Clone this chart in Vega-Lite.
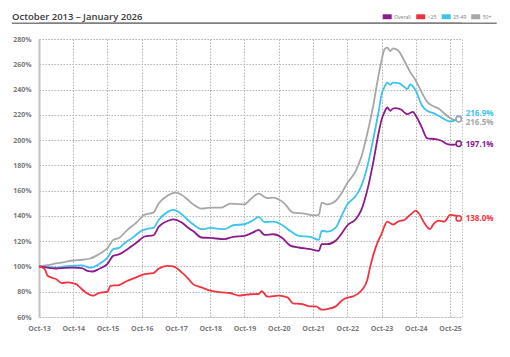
{
  "$schema": "https://vega.github.io/schema/vega-lite/v6.json",
  "width": 423,
  "height": 278,
  "autosize": {"type": "none"},
  "padding": {"left": 39, "top": 39, "right": 48, "bottom": 40},
  "background": "white",
  "config": {
    "font": "Open Sans",
    "view": {"stroke": "#bdbdbd", "strokeDash": [1.5, 1.5], "strokeWidth": 1}
  },
  "title": {
    "text": "October 2013 – January 2026",
    "anchor": "start",
    "frame": "group",
    "dx": -27,
    "offset": -9,
    "fontSize": 9.5,
    "fontWeight": 600,
    "color": "#3a3a3a"
  },
  "datasets": {
    "s": [
      {"d": "2013-10-01", "s": "50+", "v": 100},
      {"d": "2014-01-01", "s": "50+", "v": 101},
      {"d": "2014-04-01", "s": "50+", "v": 102.4},
      {"d": "2014-07-01", "s": "50+", "v": 103.5},
      {"d": "2014-10-01", "s": "50+", "v": 104.7},
      {"d": "2015-01-01", "s": "50+", "v": 105.3},
      {"d": "2015-04-01", "s": "50+", "v": 106.3},
      {"d": "2015-06-01", "s": "50+", "v": 108.4},
      {"d": "2015-08-01", "s": "50+", "v": 111},
      {"d": "2015-10-01", "s": "50+", "v": 114.5},
      {"d": "2015-12-01", "s": "50+", "v": 121},
      {"d": "2016-02-01", "s": "50+", "v": 122.5},
      {"d": "2016-05-01", "s": "50+", "v": 129},
      {"d": "2016-08-01", "s": "50+", "v": 134.5},
      {"d": "2016-11-01", "s": "50+", "v": 141},
      {"d": "2017-02-01", "s": "50+", "v": 142.6},
      {"d": "2017-04-01", "s": "50+", "v": 150},
      {"d": "2017-07-01", "s": "50+", "v": 156},
      {"d": "2017-10-01", "s": "50+", "v": 158.5},
      {"d": "2017-12-01", "s": "50+", "v": 156.5},
      {"d": "2018-02-01", "s": "50+", "v": 153},
      {"d": "2018-04-01", "s": "50+", "v": 149.2},
      {"d": "2018-07-01", "s": "50+", "v": 145.8},
      {"d": "2018-10-01", "s": "50+", "v": 146.6},
      {"d": "2019-02-01", "s": "50+", "v": 146.6},
      {"d": "2019-05-01", "s": "50+", "v": 149.7},
      {"d": "2019-07-01", "s": "50+", "v": 149.5},
      {"d": "2019-10-01", "s": "50+", "v": 149.2},
      {"d": "2019-12-01", "s": "50+", "v": 153},
      {"d": "2020-03-01", "s": "50+", "v": 157.6},
      {"d": "2020-06-01", "s": "50+", "v": 154},
      {"d": "2020-08-01", "s": "50+", "v": 154.4},
      {"d": "2020-10-01", "s": "50+", "v": 153},
      {"d": "2020-12-01", "s": "50+", "v": 149.7},
      {"d": "2021-03-01", "s": "50+", "v": 142.6},
      {"d": "2021-07-01", "s": "50+", "v": 141.8},
      {"d": "2021-10-01", "s": "50+", "v": 140.5},
      {"d": "2021-12-01", "s": "50+", "v": 140.8},
      {"d": "2022-01-01", "s": "50+", "v": 150.5},
      {"d": "2022-03-01", "s": "50+", "v": 149.2},
      {"d": "2022-06-01", "s": "50+", "v": 152},
      {"d": "2022-08-01", "s": "50+", "v": 158},
      {"d": "2022-10-01", "s": "50+", "v": 166},
      {"d": "2023-01-01", "s": "50+", "v": 175.8},
      {"d": "2023-03-01", "s": "50+", "v": 187},
      {"d": "2023-05-01", "s": "50+", "v": 204.7},
      {"d": "2023-07-01", "s": "50+", "v": 225.8},
      {"d": "2023-09-01", "s": "50+", "v": 252},
      {"d": "2023-10-01", "s": "50+", "v": 263},
      {"d": "2023-11-01", "s": "50+", "v": 271.8},
      {"d": "2023-12-01", "s": "50+", "v": 273.2},
      {"d": "2024-01-01", "s": "50+", "v": 270.5},
      {"d": "2024-02-01", "s": "50+", "v": 272.6},
      {"d": "2024-03-01", "s": "50+", "v": 272},
      {"d": "2024-04-01", "s": "50+", "v": 270.5},
      {"d": "2024-06-01", "s": "50+", "v": 262.6},
      {"d": "2024-08-01", "s": "50+", "v": 254},
      {"d": "2024-10-01", "s": "50+", "v": 247},
      {"d": "2024-12-01", "s": "50+", "v": 238},
      {"d": "2025-02-01", "s": "50+", "v": 230},
      {"d": "2025-04-01", "s": "50+", "v": 227},
      {"d": "2025-06-01", "s": "50+", "v": 225},
      {"d": "2025-08-01", "s": "50+", "v": 221},
      {"d": "2025-10-01", "s": "50+", "v": 217.4},
      {"d": "2025-12-01", "s": "50+", "v": 215.8},
      {"d": "2026-01-01", "s": "50+", "v": 216.5},

      {"d": "2013-10-01", "s": "25-49", "v": 100},
      {"d": "2014-01-01", "s": "25-49", "v": 99.5},
      {"d": "2014-04-01", "s": "25-49", "v": 99},
      {"d": "2014-07-01", "s": "25-49", "v": 100},
      {"d": "2014-10-01", "s": "25-49", "v": 100.5},
      {"d": "2015-01-01", "s": "25-49", "v": 100.8},
      {"d": "2015-04-01", "s": "25-49", "v": 99},
      {"d": "2015-07-01", "s": "25-49", "v": 101.8},
      {"d": "2015-10-01", "s": "25-49", "v": 107},
      {"d": "2015-12-01", "s": "25-49", "v": 113.7},
      {"d": "2016-02-01", "s": "25-49", "v": 114.7},
      {"d": "2016-04-01", "s": "25-49", "v": 118.4},
      {"d": "2016-07-01", "s": "25-49", "v": 123},
      {"d": "2016-10-01", "s": "25-49", "v": 128.5},
      {"d": "2016-12-01", "s": "25-49", "v": 129.8},
      {"d": "2017-02-01", "s": "25-49", "v": 130.5},
      {"d": "2017-04-01", "s": "25-49", "v": 137},
      {"d": "2017-07-01", "s": "25-49", "v": 143},
      {"d": "2017-09-01", "s": "25-49", "v": 144.7},
      {"d": "2017-12-01", "s": "25-49", "v": 141.3},
      {"d": "2018-02-01", "s": "25-49", "v": 137},
      {"d": "2018-04-01", "s": "25-49", "v": 133.4},
      {"d": "2018-07-01", "s": "25-49", "v": 129.5},
      {"d": "2018-10-01", "s": "25-49", "v": 130.5},
      {"d": "2019-03-01", "s": "25-49", "v": 129.5},
      {"d": "2019-06-01", "s": "25-49", "v": 132.6},
      {"d": "2019-10-01", "s": "25-49", "v": 133.4},
      {"d": "2020-01-01", "s": "25-49", "v": 136.5},
      {"d": "2020-03-01", "s": "25-49", "v": 139.2},
      {"d": "2020-05-01", "s": "25-49", "v": 135.2},
      {"d": "2020-08-01", "s": "25-49", "v": 135.5},
      {"d": "2020-11-01", "s": "25-49", "v": 133},
      {"d": "2021-02-01", "s": "25-49", "v": 128},
      {"d": "2021-05-01", "s": "25-49", "v": 124.2},
      {"d": "2021-09-01", "s": "25-49", "v": 123.4},
      {"d": "2021-12-01", "s": "25-49", "v": 121},
      {"d": "2022-01-01", "s": "25-49", "v": 128.1},
      {"d": "2022-03-01", "s": "25-49", "v": 127.6},
      {"d": "2022-06-01", "s": "25-49", "v": 131},
      {"d": "2022-08-01", "s": "25-49", "v": 140},
      {"d": "2022-10-01", "s": "25-49", "v": 149},
      {"d": "2023-01-01", "s": "25-49", "v": 156},
      {"d": "2023-03-01", "s": "25-49", "v": 164},
      {"d": "2023-05-01", "s": "25-49", "v": 178.4},
      {"d": "2023-07-01", "s": "25-49", "v": 199.5},
      {"d": "2023-09-01", "s": "25-49", "v": 223},
      {"d": "2023-10-01", "s": "25-49", "v": 236},
      {"d": "2023-11-01", "s": "25-49", "v": 242},
      {"d": "2023-12-01", "s": "25-49", "v": 245.5},
      {"d": "2024-01-01", "s": "25-49", "v": 243.7},
      {"d": "2024-02-01", "s": "25-49", "v": 245.5},
      {"d": "2024-04-01", "s": "25-49", "v": 245},
      {"d": "2024-06-01", "s": "25-49", "v": 242},
      {"d": "2024-07-01", "s": "25-49", "v": 240.3},
      {"d": "2024-08-01", "s": "25-49", "v": 244},
      {"d": "2024-10-01", "s": "25-49", "v": 239},
      {"d": "2024-12-01", "s": "25-49", "v": 228},
      {"d": "2025-02-01", "s": "25-49", "v": 223},
      {"d": "2025-04-01", "s": "25-49", "v": 221.5},
      {"d": "2025-06-01", "s": "25-49", "v": 219.2},
      {"d": "2025-08-01", "s": "25-49", "v": 216.6},
      {"d": "2025-10-01", "s": "25-49", "v": 214.7},
      {"d": "2025-12-01", "s": "25-49", "v": 215.8},
      {"d": "2026-01-01", "s": "25-49", "v": 216.9},

      {"d": "2013-10-01", "s": "Overall", "v": 100},
      {"d": "2014-01-01", "s": "Overall", "v": 99},
      {"d": "2014-04-01", "s": "Overall", "v": 98.4},
      {"d": "2014-07-01", "s": "Overall", "v": 98.8},
      {"d": "2014-10-01", "s": "Overall", "v": 99},
      {"d": "2015-01-01", "s": "Overall", "v": 98.7},
      {"d": "2015-03-01", "s": "Overall", "v": 96.5},
      {"d": "2015-05-01", "s": "Overall", "v": 96},
      {"d": "2015-07-01", "s": "Overall", "v": 98},
      {"d": "2015-10-01", "s": "Overall", "v": 102},
      {"d": "2015-12-01", "s": "Overall", "v": 108.4},
      {"d": "2016-02-01", "s": "Overall", "v": 109.5},
      {"d": "2016-05-01", "s": "Overall", "v": 113.7},
      {"d": "2016-08-01", "s": "Overall", "v": 118.5},
      {"d": "2016-11-01", "s": "Overall", "v": 123.7},
      {"d": "2017-02-01", "s": "Overall", "v": 124.7},
      {"d": "2017-04-01", "s": "Overall", "v": 131.5},
      {"d": "2017-07-01", "s": "Overall", "v": 136},
      {"d": "2017-09-01", "s": "Overall", "v": 137.3},
      {"d": "2017-12-01", "s": "Overall", "v": 134.7},
      {"d": "2018-02-01", "s": "Overall", "v": 131},
      {"d": "2018-04-01", "s": "Overall", "v": 128},
      {"d": "2018-07-01", "s": "Overall", "v": 122.9},
      {"d": "2018-10-01", "s": "Overall", "v": 122.6},
      {"d": "2019-03-01", "s": "Overall", "v": 121.6},
      {"d": "2019-06-01", "s": "Overall", "v": 123.4},
      {"d": "2019-10-01", "s": "Overall", "v": 124.2},
      {"d": "2020-01-01", "s": "Overall", "v": 127},
      {"d": "2020-03-01", "s": "Overall", "v": 128.9},
      {"d": "2020-05-01", "s": "Overall", "v": 125},
      {"d": "2020-08-01", "s": "Overall", "v": 125.5},
      {"d": "2020-11-01", "s": "Overall", "v": 122.9},
      {"d": "2021-02-01", "s": "Overall", "v": 116.5},
      {"d": "2021-05-01", "s": "Overall", "v": 115},
      {"d": "2021-09-01", "s": "Overall", "v": 113.7},
      {"d": "2021-12-01", "s": "Overall", "v": 112.4},
      {"d": "2022-01-01", "s": "Overall", "v": 117.6},
      {"d": "2022-03-01", "s": "Overall", "v": 117.6},
      {"d": "2022-06-01", "s": "Overall", "v": 120.5},
      {"d": "2022-08-01", "s": "Overall", "v": 126},
      {"d": "2022-10-01", "s": "Overall", "v": 132.4},
      {"d": "2023-01-01", "s": "Overall", "v": 137.6},
      {"d": "2023-03-01", "s": "Overall", "v": 145},
      {"d": "2023-05-01", "s": "Overall", "v": 160},
      {"d": "2023-07-01", "s": "Overall", "v": 181},
      {"d": "2023-09-01", "s": "Overall", "v": 206},
      {"d": "2023-10-01", "s": "Overall", "v": 216},
      {"d": "2023-11-01", "s": "Overall", "v": 222},
      {"d": "2023-12-01", "s": "Overall", "v": 225.8},
      {"d": "2024-01-01", "s": "Overall", "v": 223.2},
      {"d": "2024-02-01", "s": "Overall", "v": 225},
      {"d": "2024-03-01", "s": "Overall", "v": 225.3},
      {"d": "2024-05-01", "s": "Overall", "v": 224},
      {"d": "2024-06-01", "s": "Overall", "v": 221.8},
      {"d": "2024-07-01", "s": "Overall", "v": 220.5},
      {"d": "2024-09-01", "s": "Overall", "v": 222.4},
      {"d": "2024-10-01", "s": "Overall", "v": 219.2},
      {"d": "2024-12-01", "s": "Overall", "v": 210.5},
      {"d": "2025-02-01", "s": "Overall", "v": 201.3},
      {"d": "2025-05-01", "s": "Overall", "v": 200.8},
      {"d": "2025-07-01", "s": "Overall", "v": 199.5},
      {"d": "2025-09-01", "s": "Overall", "v": 196.8},
      {"d": "2025-11-01", "s": "Overall", "v": 196.3},
      {"d": "2026-01-01", "s": "Overall", "v": 197.1},

      {"d": "2013-10-01", "s": "<25", "v": 100},
      {"d": "2013-12-01", "s": "<25", "v": 97.9},
      {"d": "2014-01-01", "s": "<25", "v": 92.6},
      {"d": "2014-04-01", "s": "<25", "v": 90},
      {"d": "2014-06-01", "s": "<25", "v": 86.8},
      {"d": "2014-08-01", "s": "<25", "v": 87.4},
      {"d": "2014-11-01", "s": "<25", "v": 86},
      {"d": "2014-12-01", "s": "<25", "v": 84.2},
      {"d": "2015-02-01", "s": "<25", "v": 80},
      {"d": "2015-05-01", "s": "<25", "v": 76.9},
      {"d": "2015-07-01", "s": "<25", "v": 79},
      {"d": "2015-10-01", "s": "<25", "v": 80},
      {"d": "2015-11-01", "s": "<25", "v": 84.7},
      {"d": "2016-02-01", "s": "<25", "v": 85.3},
      {"d": "2016-05-01", "s": "<25", "v": 88.7},
      {"d": "2016-08-01", "s": "<25", "v": 91.3},
      {"d": "2016-11-01", "s": "<25", "v": 94},
      {"d": "2017-02-01", "s": "<25", "v": 94.7},
      {"d": "2017-04-01", "s": "<25", "v": 98.4},
      {"d": "2017-07-01", "s": "<25", "v": 100.5},
      {"d": "2017-09-01", "s": "<25", "v": 100},
      {"d": "2017-12-01", "s": "<25", "v": 95.3},
      {"d": "2018-02-01", "s": "<25", "v": 91},
      {"d": "2018-04-01", "s": "<25", "v": 86},
      {"d": "2018-07-01", "s": "<25", "v": 83.4},
      {"d": "2018-10-01", "s": "<25", "v": 80.8},
      {"d": "2019-02-01", "s": "<25", "v": 79.5},
      {"d": "2019-05-01", "s": "<25", "v": 79},
      {"d": "2019-08-01", "s": "<25", "v": 76.9},
      {"d": "2019-10-01", "s": "<25", "v": 77.4},
      {"d": "2019-12-01", "s": "<25", "v": 78},
      {"d": "2020-03-01", "s": "<25", "v": 78.2},
      {"d": "2020-04-01", "s": "<25", "v": 80.5},
      {"d": "2020-06-01", "s": "<25", "v": 76.1},
      {"d": "2020-10-01", "s": "<25", "v": 76.9},
      {"d": "2021-01-01", "s": "<25", "v": 75.6},
      {"d": "2021-03-01", "s": "<25", "v": 70.8},
      {"d": "2021-06-01", "s": "<25", "v": 70.3},
      {"d": "2021-09-01", "s": "<25", "v": 68.4},
      {"d": "2021-11-01", "s": "<25", "v": 68.4},
      {"d": "2022-01-01", "s": "<25", "v": 65.8},
      {"d": "2022-03-01", "s": "<25", "v": 66.3},
      {"d": "2022-06-01", "s": "<25", "v": 68.4},
      {"d": "2022-08-01", "s": "<25", "v": 72.9},
      {"d": "2022-10-01", "s": "<25", "v": 75.3},
      {"d": "2022-12-01", "s": "<25", "v": 76.3},
      {"d": "2023-03-01", "s": "<25", "v": 81},
      {"d": "2023-05-01", "s": "<25", "v": 89},
      {"d": "2023-06-01", "s": "<25", "v": 99.5},
      {"d": "2023-08-01", "s": "<25", "v": 115.3},
      {"d": "2023-10-01", "s": "<25", "v": 125.8},
      {"d": "2023-12-01", "s": "<25", "v": 135.5},
      {"d": "2024-02-01", "s": "<25", "v": 133.2},
      {"d": "2024-04-01", "s": "<25", "v": 135.8},
      {"d": "2024-06-01", "s": "<25", "v": 136.8},
      {"d": "2024-08-01", "s": "<25", "v": 140.8},
      {"d": "2024-10-01", "s": "<25", "v": 144.2},
      {"d": "2024-11-01", "s": "<25", "v": 142.1},
      {"d": "2025-01-01", "s": "<25", "v": 134.2},
      {"d": "2025-03-01", "s": "<25", "v": 129.5},
      {"d": "2025-04-01", "s": "<25", "v": 132.9},
      {"d": "2025-06-01", "s": "<25", "v": 136.3},
      {"d": "2025-08-01", "s": "<25", "v": 135.5},
      {"d": "2025-10-01", "s": "<25", "v": 140.8},
      {"d": "2025-12-01", "s": "<25", "v": 140.3},
      {"d": "2026-01-01", "s": "<25", "v": 138}
    ],
    "ends": [
      {"d": "2026-01-01", "s": "Overall", "v": 197.1, "t": "197.1%"},
      {"d": "2026-01-01", "s": "<25", "v": 138, "t": "138.0%"},
      {"d": "2026-01-01", "s": "25-49", "v": 216.9, "t": "216.9%"},
      {"d": "2026-01-01", "s": "50+", "v": 216.5, "t": "216.5%"}
    ]
  },
  "layer": [
    {
      "data": {"name": "s"},
      "mark": {"type": "line", "strokeWidth": 1.8, "interpolate": "monotone"},
      "encoding": {
        "x": {
          "field": "d",
          "type": "temporal",
          "title": null,
          "scale": {
            "type": "utc",
            "domain": [
              {"year": 2013, "month": 10, "date": 1, "utc": true},
              {"year": 2026, "month": 2, "date": 5, "utc": true}
            ]
          },
          "axis": {
            "values": [
              {"year": 2013, "month": 10, "date": 1, "utc": true},
              {"year": 2014, "month": 10, "date": 1, "utc": true},
              {"year": 2015, "month": 10, "date": 1, "utc": true},
              {"year": 2016, "month": 10, "date": 1, "utc": true},
              {"year": 2017, "month": 10, "date": 1, "utc": true},
              {"year": 2018, "month": 10, "date": 1, "utc": true},
              {"year": 2019, "month": 10, "date": 1, "utc": true},
              {"year": 2020, "month": 10, "date": 1, "utc": true},
              {"year": 2021, "month": 10, "date": 1, "utc": true},
              {"year": 2022, "month": 10, "date": 1, "utc": true},
              {"year": 2023, "month": 10, "date": 1, "utc": true},
              {"year": 2024, "month": 10, "date": 1, "utc": true},
              {"year": 2025, "month": 10, "date": 1, "utc": true}
            ],
            "tickCount": 40,
            "format": "%b-%y",
            "labelOverlap": false,
            "labelFlush": false,
            "domain": false,
            "ticks": false,
            "labelPadding": 7,
            "labelFontSize": 7,
            "labelFontWeight": "bold",
            "labelColor": "#7a7a7a",
            "grid": true,
            "gridColor": "#b5b5b5",
            "gridDash": [1.5, 1.5],
            "gridWidth": 1
          }
        },
        "y": {
          "field": "v",
          "type": "quantitative",
          "title": null,
          "scale": {"domain": [60, 280], "nice": false, "zero": false},
          "axis": {
            "values": [60, 80, 100, 120, 140, 160, 180, 200, 220, 240, 260, 280],
            "tickCount": 40,
            "labelExpr": "datum.value + '%'",
            "labelOverlap": false,
            "labelFlush": false,
            "domain": true,
            "domainColor": "#c4c4c4",
            "domainWidth": 2,
            "ticks": false,
            "labelPadding": 8,
            "labelFontSize": 7,
            "labelFontWeight": "bold",
            "labelColor": "#7a7a7a",
            "grid": true,
            "gridColor": "#b5b5b5",
            "gridDash": [1.5, 1.5],
            "gridWidth": 1
          }
        },
        "color": {
          "field": "s",
          "type": "nominal",
          "scale": {
            "domain": ["Overall", "<25", "25-49", "50+"],
            "range": ["#8c1a8c", "#f2333f", "#3ec3ee", "#a7a7a7"]
          },
          "legend": {
            "orient": "none",
            "legendX": 343.7,
            "legendY": -27,
            "direction": "horizontal",
            "title": null,
            "symbolType": "M-1,-0.55H1V0.55H-1Z",
            "symbolSize": 81,
            "symbolStrokeWidth": 0,
            "labelFontSize": 5,
            "labelColor": "#777777",
            "labelOffset": 2.5,
            "columnPadding": 4.5,
            "encode": {
              "symbols": {"update": {"fill": {"scale": "color", "field": "value"}, "opacity": {"value": 1}}}
            }
          }
        }
      }
    },
    {
      "data": {"values": [{"k": "separatorA"}]},
      "mark": {"type": "rule", "clip": false, "stroke": "gray", "strokeOpacity": 1, "strokeWidth": 1.5},
      "encoding": {
        "x": {"datum": {"year": 2012, "month": 12, "date": 15, "utc": true}, "type": "temporal"},
        "x2": {"datum": {"year": 2019, "month": 6, "date": 1, "utc": true}},
        "y": {"datum": 292.5, "type": "quantitative"}
      }
    },
    {
      "data": {"values": [{"k": "separatorB"}]},
      "mark": {"type": "rule", "clip": false, "stroke": "gray", "strokeOpacity": 1, "strokeWidth": 1.5},
      "encoding": {
        "x": {"datum": {"year": 2027, "month": 2, "date": 10, "utc": true}, "type": "temporal"},
        "x2": {"datum": {"year": 2019, "month": 6, "date": 1, "utc": true}},
        "y": {"datum": 292.5, "type": "quantitative"}
      }
    },
    {
      "data": {"values": [{"k": "separatorC"}]},
      "mark": {"type": "rule", "clip": false, "stroke": "gray", "strokeOpacity": 1, "strokeWidth": 1.5},
      "encoding": {
        "x": {"datum": {"year": 2013, "month": 10, "date": 1, "utc": true}, "type": "temporal"},
        "x2": {"datum": {"year": 2026, "month": 2, "date": 5, "utc": true}},
        "y": {"datum": 292.5, "type": "quantitative"}
      }
    },
    {
      "data": {"name": "ends"},
      "mark": {"type": "point", "shape": "circle", "filled": false, "fill": "white", "fillOpacity": 1, "opacity": 1, "strokeWidth": 1.5, "size": 28},
      "encoding": {
        "x": {"field": "d", "type": "temporal"},
        "y": {"field": "v", "type": "quantitative"},
        "color": {"field": "s", "type": "nominal", "legend": null}
      }
    },
    {
      "data": {"name": "ends"},
      "transform": [{"filter": "datum.s === 'Overall' || datum.s === '<25'"}],
      "mark": {"type": "text", "align": "left", "dx": 7, "dy": 1, "fontSize": 8, "fontWeight": "bold"},
      "encoding": {
        "x": {"field": "d", "type": "temporal"},
        "y": {"field": "v", "type": "quantitative"},
        "text": {"field": "t"},
        "color": {"field": "s", "type": "nominal", "legend": null}
      }
    },
    {
      "data": {"name": "ends"},
      "transform": [{"filter": "datum.s === '25-49'"}],
      "mark": {"type": "text", "align": "left", "dx": 7, "dy": -4.5, "fontSize": 8, "fontWeight": "bold"},
      "encoding": {
        "x": {"field": "d", "type": "temporal"},
        "y": {"field": "v", "type": "quantitative"},
        "text": {"field": "t"},
        "color": {"field": "s", "type": "nominal", "legend": null}
      }
    },
    {
      "data": {"name": "ends"},
      "transform": [{"filter": "datum.s === '50+'"}],
      "mark": {"type": "text", "align": "left", "dx": 7, "dy": 3.5, "fontSize": 8, "fontWeight": "bold"},
      "encoding": {
        "x": {"field": "d", "type": "temporal"},
        "y": {"field": "v", "type": "quantitative"},
        "text": {"field": "t"},
        "color": {"field": "s", "type": "nominal", "legend": null}
      }
    }
  ]
}
